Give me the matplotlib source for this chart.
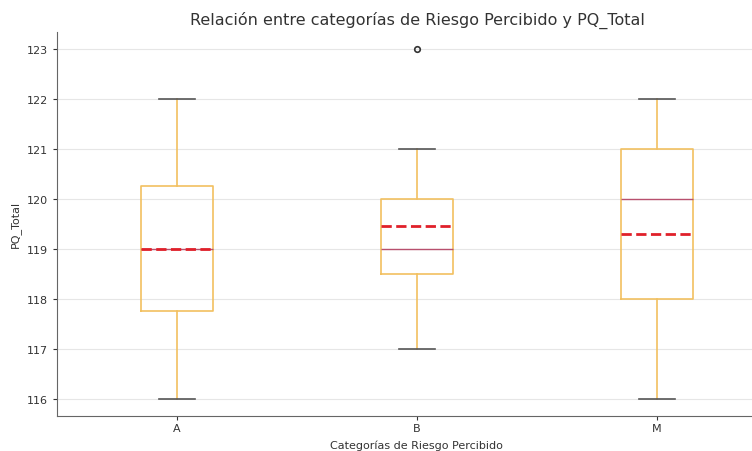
import matplotlib
matplotlib.use("Agg")
import matplotlib.pyplot as plt

# Summary statistics of PQ_Total per perceived-risk category
categories = ["A", "B", "M"]
whisker_low = [116, 117, 116]
q1 = [117.75, 118.5, 118.0]
medians = [119, 119, 120]
means = [119.0, 119.45, 119.3]
q3 = [120.25, 120.0, 121.0]
whisker_high = [122, 121, 122]
outliers = [[], [123], []]

stats = []
for i, cat in enumerate(categories):
    stats.append(dict(label=cat, whislo=whisker_low[i], q1=q1[i], med=medians[i],
                      mean=means[i], q3=q3[i], whishi=whisker_high[i],
                      fliers=outliers[i]))

fig = plt.figure(figsize=(7.52, 4.52), dpi=100)
ax = fig.add_axes([0.0758, 0.0774, 0.957, 0.85])

box_color = "#f2c060"
ax.bxp(stats, positions=[1, 2, 3], widths=0.3, showmeans=True, meanline=True,
       boxprops=dict(color=box_color, linewidth=1.2),
       whiskerprops=dict(color=box_color, linewidth=1.2),
       capprops=dict(color="#555555", linewidth=1.2),
       medianprops=dict(color="#b8506e", linewidth=1.0),
       meanprops=dict(color="#e0202a", linestyle="--", linewidth=2.0),
       flierprops=dict(marker="o", markerfacecolor="none", markeredgecolor="#333333",
                       markersize=4, markeredgewidth=1.2))

ax.set_xlim(0.5, 3.5)
ax.set_ylim(115.65, 123.35)
ax.set_yticks(range(116, 124))
ax.yaxis.grid(True, color="#e6e6e6", linewidth=0.8)
ax.set_axisbelow(True)
for side in ("top", "right"):
    ax.spines[side].set_visible(False)
for side in ("left", "bottom"):
    ax.spines[side].set_color("#666666")
ax.tick_params(labelsize=8, colors="#333333", length=3)
ax.tick_params(axis="x", pad=2)

ax.set_title("Relación entre categorías de Riesgo Percibido y PQ_Total", fontsize=11.5,
             color="#333333", x=(417 - 57) / (0.957 * 752))
ax.set_xlabel("Categorías de Riesgo Percibido", fontsize=8, color="#333333", labelpad=5)
ax.set_ylabel("PQ_Total", fontsize=8, color="#333333")

fig.savefig("out.png", dpi=100)
